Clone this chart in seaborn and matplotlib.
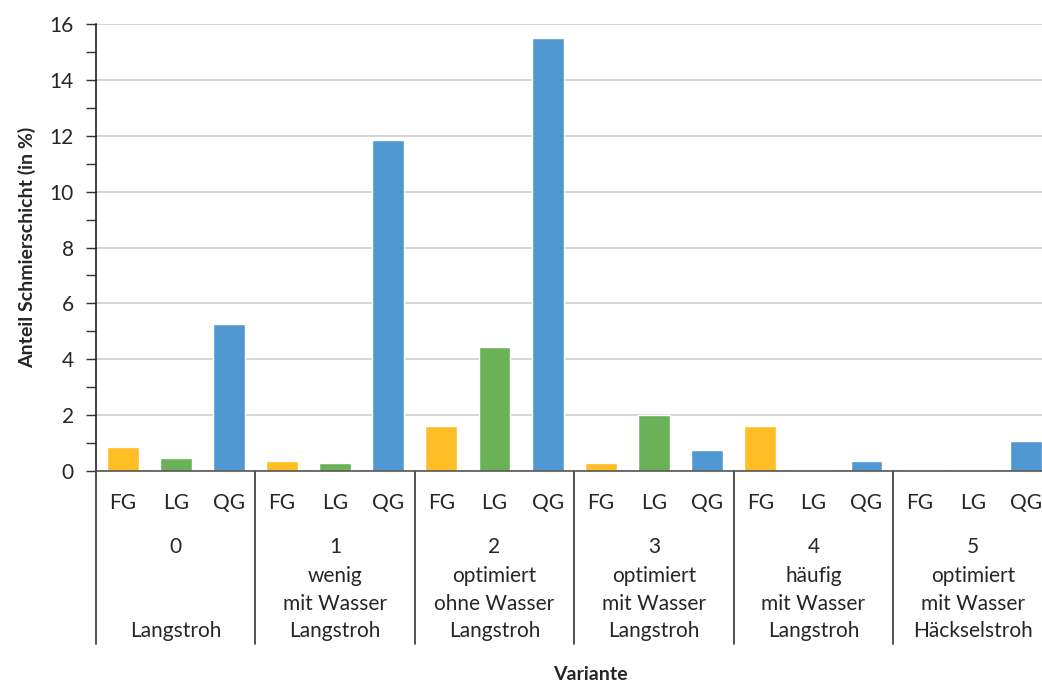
import matplotlib
matplotlib.use("Agg")
import matplotlib.pyplot as plt
import matplotlib.transforms as mtransforms
import seaborn as sns
import pandas as pd

# Data
varianten = ["0", "1", "2", "3", "4", "5"]
variant_lines = [
    ["0", "", "", "Langstroh"],
    ["1", "wenig", "mit Wasser", "Langstroh"],
    ["2", "optimiert", "ohne Wasser", "Langstroh"],
    ["3", "optimiert", "mit Wasser", "Langstroh"],
    ["4", "häufig", "mit Wasser", "Langstroh"],
    ["5", "optimiert", "mit Wasser", "Häckselstroh"],
]
gruppen = ["FG", "LG", "QG"]
fg = [0.87, 0.36, 1.62, 0.29, 1.62, 0.0]
lg = [0.47, 0.29, 4.44, 2.02, 0.0, 0.0]
qg = [5.27, 11.85, 15.5, 0.75, 0.35, 1.09]

colors = {"FG": "#FFBD26", "LG": "#6BB157", "QG": "#5198D3"}

rows = []
for i, v in enumerate(varianten):
    for g, vals in zip(gruppen, [fg, lg, qg]):
        rows.append({"key": f"{v}-{g}", "Gruppe": g, "Anteil": vals[i]})
df = pd.DataFrame(rows)

sns.set_style("white")
plt.rcParams["font.family"] = ["Lato", "DejaVu Sans"]

fig = plt.figure(figsize=(10.42, 6.82), dpi=100)
ax = fig.add_axes([96 / 1042, 211 / 682, 956.5 / 1042, 447 / 682])

sns.barplot(data=df, x="key", y="Anteil", hue="Gruppe", palette=colors,
            dodge=False, width=0.6, legend=False, saturation=1, ax=ax)

fs = 15
ax.set_ylim(0, 16)
ax.set_xlim(-0.5, len(df) - 0.5)
ax.set_yticks(range(0, 17, 2))
ax.set_yticks(range(1, 16, 2), minor=True)
ax.yaxis.grid(True, color="#D0D0D0", linewidth=1.2)
ax.set_axisbelow(True)
ax.tick_params(axis="y", which="both", direction="out", length=7, width=1,
               color="#333333", left=True, labelsize=fs, pad=9)
ax.tick_params(axis="x", length=0, pad=16, labelsize=fs)
ax.set_xticks(range(len(df)))
ax.set_xticklabels(df["Gruppe"])
for lab in ax.get_xticklabels() + ax.get_yticklabels():
    lab.set_color("#262626")

for s in ["top", "right"]:
    ax.spines[s].set_visible(False)
ax.spines["left"].set_color("#222222")
ax.spines["bottom"].set_color("#555555")
ax.spines["left"].set_linewidth(1.2)
ax.spines["bottom"].set_linewidth(1.2)

ax.set_xlabel("")
ax.set_ylabel("Anteil Schmierschicht (in %)", fontsize=14, fontweight="bold",
              color="#262626", labelpad=10)

# Group labels and separators below the axis
trans = mtransforms.blended_transform_factory(ax.transData, ax.transAxes)
h = 447.0
line_offsets = [76, 105, 133, 160]
for i, lines in enumerate(variant_lines):
    xc = i * 3 + 1
    for txt, off in zip(lines, line_offsets):
        if txt:
            ax.text(xc, -off / h, txt, transform=trans, ha="center", va="center",
                    fontsize=fs, color="#262626", clip_on=False)
for b in range(len(varianten) + 1):
    xb = b * 3 - 0.5
    ax.plot([xb, xb], [0, -173 / h], transform=trans, color="#333333",
            linewidth=1.2, clip_on=False)

fig.text(590 / 1042, 1 - 674 / 682, "Variante", ha="center", va="center",
         fontsize=14, fontweight="bold", color="#262626")

fig.savefig("out.png", dpi=100)
